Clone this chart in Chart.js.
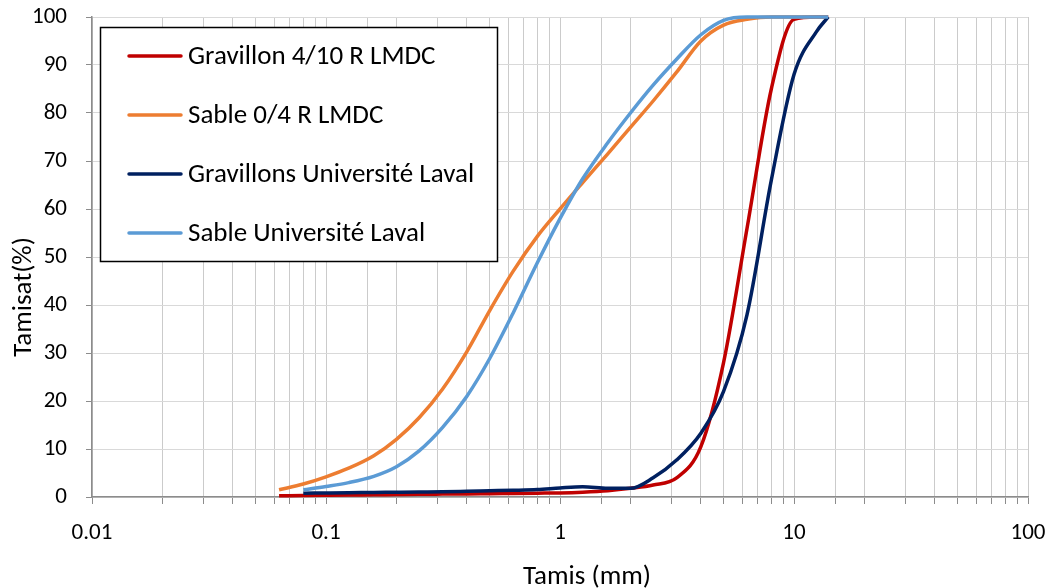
<!DOCTYPE html>
<html>
<head>
<meta charset="utf-8">
<script src="https://cdn.jsdelivr.net/npm/chart.js@4.4.1/dist/chart.umd.min.js"></script>
<style>
html,body{margin:0;padding:0;background:#ffffff;}
#wrap{width:1055px;height:588px;position:relative;}
canvas{display:block;}
</style>
</head>
<body>
<div id="wrap"><canvas id="c" width="1055" height="588"></canvas></div>
<script>
// ---- data ----
const seriesNames = ['Gravillon 4/10 R LMDC', 'Sable 0/4 R LMDC', 'Gravillons Université Laval', 'Sable Université Laval'];
const seriesColors = ['#C00000', '#ED7D31', '#002060', '#5B9BD5'];

const gravLmdcSieves = [0.063, 0.08, 0.1, 0.125, 0.16, 0.2, 0.25, 0.315, 0.4, 0.5, 0.63, 0.8, 1, 1.25, 1.6, 2, 2.5, 3.15, 4, 5, 6.3, 8, 10, 12.5, 14];
const gravLmdcValues = [0.25, 0.3, 0.35, 0.4, 0.45, 0.5, 0.55, 0.6, 0.65, 0.7, 0.75, 0.8, 0.85, 1.0, 1.3, 1.8, 2.5, 4.0, 10.5, 28, 56, 85, 99.5, 100, 100];

const sableLmdcSieves = [0.063, 0.08, 0.1, 0.125, 0.16, 0.2, 0.25, 0.315, 0.4, 0.5, 0.63, 0.8, 1, 1.25, 1.6, 2, 2.5, 3.15, 4, 5, 6.3, 8, 10, 12.5, 14];
const sableLmdcValues = [1.5, 2.7, 4.2, 6.0, 8.6, 12.0, 16.5, 22.5, 30.3, 38.8, 47, 54.3, 60, 65.5, 71.5, 77, 82.5, 88.5, 95, 98.3, 99.5, 100, 100, 100, 100];

const gravLavalSieves = [0.08, 0.1, 0.125, 0.16, 0.2, 0.25, 0.315, 0.4, 0.5, 0.63, 0.8, 1, 1.25, 1.6, 2, 2.5, 3.15, 4, 5, 6.3, 8, 10, 12.5, 14];
const gravLavalValues = [0.8, 0.85, 0.9, 0.95, 1.0, 1.05, 1.1, 1.2, 1.3, 1.4, 1.55, 1.9, 2.15, 1.8, 1.8, 4.0, 7.7, 13.3, 22, 38, 66, 88, 97, 100];

const sableLavalSieves = [0.08, 0.1, 0.125, 0.16, 0.2, 0.25, 0.315, 0.4, 0.5, 0.63, 0.8, 1, 1.25, 1.6, 2, 2.5, 3.15, 4, 5, 6.3, 8, 10, 12.5, 14];
const sableLavalValues = [1.5, 2.2, 3.0, 4.3, 6.3, 9.6, 14.5, 21, 28.8, 38.3, 48.8, 58, 66.3, 73.8, 80, 85.8, 91.2, 96.3, 99.3, 100, 100, 100, 100, 100];

const xTickValues = [0.01, 0.1, 1, 10, 100];
const xTickLabels = ['0.01', '0.1', '1', '10', '100'];
const yTickStep = 10;
const xTitle = 'Tamis (mm)';
const yTitle = 'Tamisat(%)';

// ---- build ----
const FONT = 'Carlito, Lato, sans-serif';
const sieveSets = [gravLmdcSieves, sableLmdcSieves, gravLavalSieves, sableLavalSieves];
const valueSets = [gravLmdcValues, sableLmdcValues, gravLavalValues, sableLavalValues];
const drawOrder = [4, 3, 2, 1];

const datasets = seriesNames.map((name, i) => ({
  label: name,
  data: sieveSets[i].map((s, k) => ({ x: s, y: valueSets[i][k] })),
  borderColor: seriesColors[i],
  backgroundColor: seriesColors[i],
  borderWidth: 3.5,
  pointRadius: 0,
  cubicInterpolationMode: 'monotone',
  fill: false,
  clip: false,
  order: drawOrder[i]
}));

const isDecade = v => Math.abs(Math.log10(v) - Math.round(Math.log10(v))) < 1e-6;

const overlay = {
  id: 'overlay',
  afterDraw(chart) {
    const ctx = chart.ctx;
    ctx.save();
    // axis titles
    ctx.fillStyle = '#000';
    ctx.font = '27px ' + FONT;
    ctx.textAlign = 'center';
    ctx.textBaseline = 'middle';
    ctx.fillText(xTitle, 587, 577);
    ctx.translate(24, 297);
    ctx.rotate(-Math.PI / 2);
    ctx.fillText(yTitle, 0, 0);
    ctx.restore();

    // legend box
    ctx.save();
    const bx = 100.5, by = 27.5, bw = 397, bh = 234;
    ctx.fillStyle = '#fff';
    ctx.fillRect(bx, by, bw, bh);
    ctx.strokeStyle = '#000';
    ctx.lineWidth = 1.5;
    ctx.strokeRect(bx, by, bw, bh);
    const rowY = [56, 115, 174, 233];
    ctx.font = '27px ' + FONT;
    ctx.textAlign = 'left';
    ctx.textBaseline = 'middle';
    chart.data.datasets.forEach((ds, i) => {
      ctx.strokeStyle = ds.borderColor;
      ctx.lineWidth = 3.5;
      ctx.lineCap = 'round';
      ctx.beginPath();
      ctx.moveTo(129, rowY[i]);
      ctx.lineTo(181, rowY[i]);
      ctx.stroke();
      ctx.fillStyle = '#000';
      ctx.fillText(ds.label, 188, rowY[i] + 1);
    });
    ctx.restore();
  }
};

new Chart(document.getElementById('c'), {
  type: 'line',
  data: { datasets },
  options: {
    responsive: false,
    animation: false,
    devicePixelRatio: 1,
    layout: { padding: { top: 17, right: 27, left: 0, bottom: 0 } },
    plugins: { legend: { display: false }, tooltip: { enabled: false }, title: { display: false } },
    scales: {
      x: {
        type: 'logarithmic',
        min: 0.01,
        max: 100,
        afterFit(scale) {
          scale.height = 91;
          scale.paddingLeft = 0;
          scale.paddingRight = 0;
        },
        grid: {
          color: '#cbcbcb',
          lineWidth: 1,
          drawTicks: true,
          tickLength: 7,
          tickColor: '#8c8c8c'
        },
        border: { color: '#8c8c8c', width: 1.5 },
        ticks: {
          autoSkip: false,
          maxRotation: 0,
          minRotation: 0,
          padding: 15,
          color: '#000',
          font: { family: FONT, size: 23 },
          callback(value) {
            if (!isDecade(value)) return '';
            const idx = xTickValues.findIndex(t => Math.abs(Math.log10(t) - Math.log10(value)) < 1e-6);
            return idx >= 0 ? xTickLabels[idx] : '';
          }
        }
      },
      y: {
        min: 0,
        max: 100,
        afterFit(scale) {
          scale.width = 92;
          scale.paddingTop = 0;
          scale.paddingBottom = 0;
        },
        grid: {
          color: '#d9d9d9',
          lineWidth: 1,
          tickLength: 6,
          tickColor: '#8c8c8c'
        },
        border: { color: '#8c8c8c', width: 1.5 },
        ticks: {
          stepSize: yTickStep,
          padding: 19,
          color: '#000',
          font: { family: FONT, size: 23 }
        }
      }
    }
  },
  plugins: [overlay]
});
</script>
</body>
</html>
